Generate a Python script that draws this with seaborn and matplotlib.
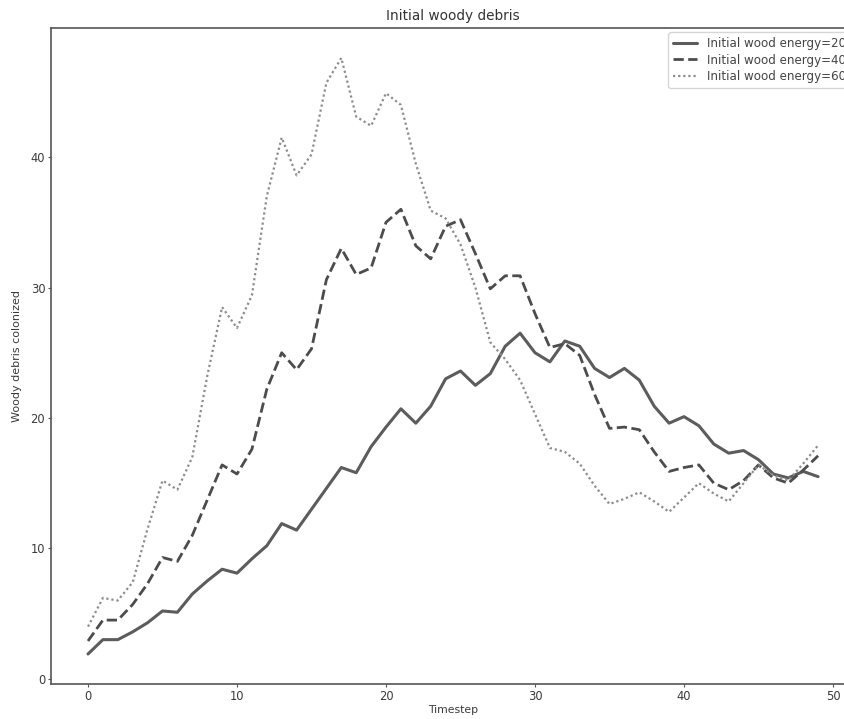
import matplotlib
matplotlib.use("Agg")
import matplotlib.pyplot as plt
import seaborn as sns
import pandas as pd
import numpy as np

timesteps = list(range(50))

energy_20 = [1.9, 3.0, 3.0, 3.6, 4.3, 5.2, 5.1, 6.5, 7.5, 8.4, 8.1, 9.2, 10.2, 11.9, 11.4, 13.0,
             14.6, 16.2, 15.8, 17.8, 19.3, 20.7, 19.6, 20.9, 23.0, 23.6, 22.5, 23.4, 25.5, 26.5,
             25.0, 24.3, 25.9, 25.5, 23.8, 23.1, 23.8, 22.9, 20.9, 19.6, 20.1, 19.4, 18.0, 17.3,
             17.5, 16.8, 15.7, 15.4, 15.9, 15.5]

energy_40 = [2.9, 4.5, 4.5, 5.7, 7.3, 9.3, 9.0, 11.0, 13.7, 16.4, 15.7, 17.6, 22.2, 25.0, 23.7, 25.3,
             30.6, 33.0, 31.0, 31.5, 35.0, 36.0, 33.2, 32.2, 34.7, 35.2, 32.6, 29.9, 30.9, 30.9,
             28.0, 25.4, 25.7, 24.8, 21.8, 19.2, 19.3, 19.1, 17.4, 15.9, 16.2, 16.4, 15.0, 14.5,
             15.2, 16.4, 15.4, 15.0, 16.0, 17.1]

energy_60 = [4.0, 6.2, 6.0, 7.4, 11.5, 15.2, 14.5, 17.0, 23.2, 28.5, 26.9, 29.4, 37.0, 41.5, 38.6, 40.2,
             45.7, 47.6, 43.1, 42.4, 44.9, 44.0, 39.5, 35.9, 35.3, 33.3, 30.0, 25.8, 24.5, 22.9,
             20.3, 17.7, 17.4, 16.5, 14.8, 13.4, 13.8, 14.3, 13.6, 12.8, 13.9, 15.0, 14.2, 13.6,
             15.0, 16.4, 15.6, 15.2, 16.5, 17.9]

labels = ["Initial wood energy=20", "Initial wood energy=40", "Initial wood energy=60"]

df = pd.DataFrame({
    "Timestep": timesteps * 3,
    "value": energy_20 + energy_40 + energy_60,
    "series": [labels[0]] * 50 + [labels[1]] * 50 + [labels[2]] * 50,
})

sns.set_style("white")
plt.rcParams["font.family"] = ["DejaVu Sans"]

fig = plt.figure(figsize=(8.45, 7.19), dpi=100)
# axes extends slightly past the right edge of the figure (cropped original)
ax = fig.add_axes([51.5 / 845, 1 - 684 / 719, (854.6 - 51.5) / 845, (684 - 28) / 719])

palette = {labels[0]: "#5c5c5c", labels[1]: "#4c4c4c", labels[2]: "#8c8c8c"}
dashes = {labels[0]: "", labels[1]: (3.7, 1.6), labels[2]: (1, 1.3)}
sizes = {labels[0]: 2.2, labels[1]: 2.0, labels[2]: 1.6}

sns.lineplot(data=df, x="Timestep", y="value", hue="series", style="series",
             size="series", sizes=sizes, palette=palette, dashes=dashes, ax=ax)

ax.set_xlim(-2.45, 51.45)
ax.set_ylim(-0.4, 49.9)
ax.set_xticks([0, 10, 20, 30, 40, 50])
ax.set_yticks([0, 10, 20, 30, 40])
ax.tick_params(axis="both", labelsize=8.3, length=2.5, width=0.8, color="#555555",
               labelcolor="#3a3a3a", direction="out", bottom=True, left=True, pad=2)
for s in ax.spines.values():
    s.set_color("#555555")
    s.set_linewidth(1.2)

ax.set_title("Initial woody debris", fontsize=9.8, color="#333333", pad=6)
ax.set_xlabel("Timestep", fontsize=7.8, color="#3a3a3a", labelpad=1)
ax.set_ylabel("Woody debris colonized", fontsize=8.0, color="#3a3a3a", labelpad=6)

leg = ax.legend(loc="upper right", fontsize=8.6, frameon=True, handlelength=2.0,
                borderaxespad=0.35, labelspacing=0.3, borderpad=0.4)
leg.get_frame().set_edgecolor("#cccccc")
for t in leg.get_texts():
    t.set_color("#444444")

fig.savefig("out.png", dpi=100)
